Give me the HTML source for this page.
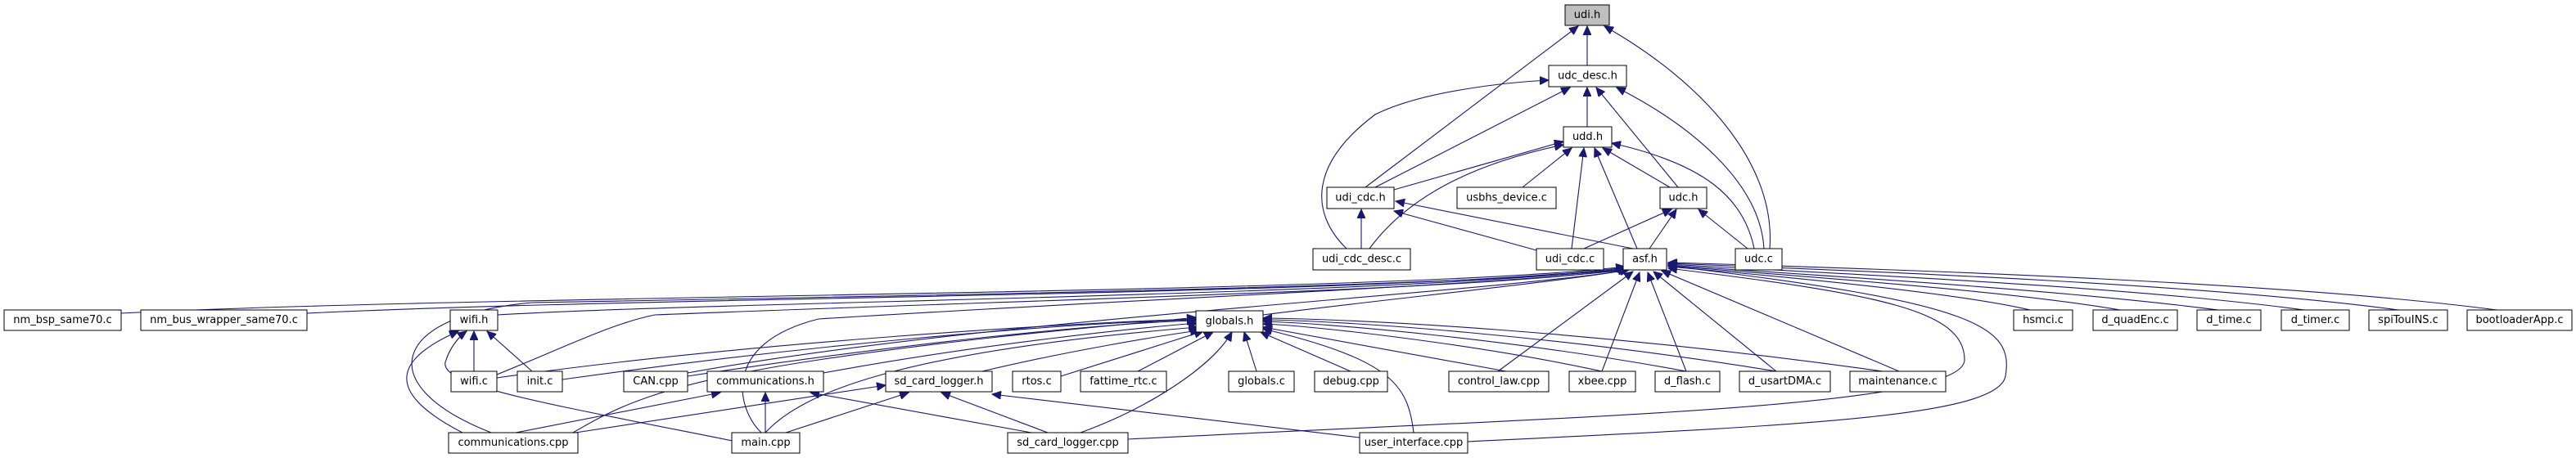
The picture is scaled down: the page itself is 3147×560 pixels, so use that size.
<!DOCTYPE html>
<html><head><meta charset="utf-8"><style>
html,body{margin:0;padding:0;background:#fff;}
svg{display:block}
text{font-family:"DejaVu Sans","Liberation Sans",sans-serif;font-size:13px;fill:#000;text-anchor:middle;dominant-baseline:central}
.n{fill:#fff;stroke:#000;stroke-width:1}
.e{fill:none;stroke:#191970;stroke-width:1.1}
</style></head><body>
<svg width="3147" height="560" viewBox="0 0 3147 560" xmlns="http://www.w3.org/2000/svg">
<defs><marker id="a" markerUnits="userSpaceOnUse" markerWidth="12" markerHeight="10" refX="11" refY="5" orient="auto"><path d="M0,0 L11,5 L0,10 z" fill="#191970" stroke="#191970"/></marker></defs>
<g class="e" marker-end="url(#a)">
<path d="M1939,80 L1939,32"/>
<path d="M1668,229 L1928,32"/>
<path d="M2162,304 C2170,200 2080,100 1960,32"/>
<path d="M1939,155 L1939,107"/>
<path d="M1680,229 L1918,107"/>
<path d="M1645,304 C1600,260 1600,200 1680,140 C1740,110 1850,100 1892,98"/>
<path d="M2050,229 L1950,107"/>
<path d="M2155,304 C2150,220 2060,150 1975,107"/>
<path d="M1703,232 L1910,173"/>
<path d="M1860,229 L1920,181"/>
<path d="M2040,229 L1958,181"/>
<path d="M1920,304 L1935,181"/>
<path d="M2143,304 C2130,240 2080,200 1969,175"/>
<path d="M1673,304 C1720,240 1800,200 1910,177"/>
<path d="M1663,304 L1663,256"/>
<path d="M1877,306 L1703,258"/>
<path d="M1995,304 L1705,246"/>
<path d="M2000,304 L1948,181"/>
<path d="M2015,304 L2048,256"/>
<path d="M1935,304 L2042,256"/>
<path d="M2135,304 L2075,256"/>
<!-- to asf.h -->
<path d="M148,383 C600,360 1700,360 1985,326"/>
<path d="M375,383 C800,362 1700,362 1986,327"/>
<path d="M608,385 C900,368 1700,362 1987,328"/>
<path d="M1543,385 C1700,365 1900,345 1990,330"/>
<path d="M607,458 C700,420 750,395 800,385 C1300,365 1800,355 1988,329"/>
<path d="M840,456 C1200,390 1800,360 1990,330"/>
<path d="M600,529 C450,470 480,385 650,370 C1200,360 1800,350 1988,329"/>
<path d="M930,529 C900,500 880,420 1000,390 C1400,365 1800,350 1988,330"/>
<path d="M1830,454 L1995,332"/>
<path d="M1957,454 L2003,333"/>
<path d="M2060,454 L2013,333"/>
<path d="M2170,454 L2020,332"/>
<path d="M2320,454 L2030,331"/>
<path d="M1378,537 C1900,510 2400,500 2400,440 C2400,380 2300,360 2038,328"/>
<path d="M1793,540 C2200,520 2440,510 2450,460 C2460,400 2420,370 2038,325"/>
<path d="M2480,379 C2400,360 2200,340 2038,326"/>
<path d="M2590,379 C2450,355 2200,338 2038,325"/>
<path d="M2710,379 C2500,352 2200,336 2038,324"/>
<path d="M2815,379 C2600,350 2250,335 2038,323"/>
<path d="M2930,379 C2700,348 2300,332 2038,322"/>
<path d="M3050,379 C2800,346 2350,330 2038,321"/>
<!-- to globals.h -->
<path d="M607,462 C900,420 1300,395 1461,390"/>
<path d="M687,464 C1000,420 1300,395 1461,391"/>
<path d="M840,460 C1100,420 1350,395 1461,392"/>
<path d="M1006,456 C1200,420 1400,400 1463,395"/>
<path d="M1200,454 C1300,430 1420,410 1465,404"/>
<path d="M1296,460 L1470,405"/>
<path d="M1390,454 L1482,406"/>
<path d="M1535,454 L1520,406"/>
<path d="M1650,454 L1540,406"/>
<path d="M1840,454 L1543,400"/>
<path d="M1957,454 C1800,420 1600,398 1543,396"/>
<path d="M2060,454 C1850,415 1620,395 1543,393"/>
<path d="M2170,454 C1900,410 1640,392 1543,391"/>
<path d="M2300,454 C1950,405 1660,390 1543,389"/>
<path d="M935,529 C980,480 1100,430 1463,400"/>
<path d="M1320,529 C1400,500 1480,450 1505,406"/>
<path d="M1727,529 C1720,470 1700,440 1543,402"/>
<path d="M700,529 C750,500 800,470 1000,440 C1200,410 1400,395 1461,388"/>
<!-- to wifi.h -->
<path d="M579,454 L579,405"/>
<path d="M650,454 L595,405"/>
<path d="M565,529 C470,480 480,440 560,405"/>
<path d="M900,540 C650,490 530,470 545,440 C550,425 560,412 570,405"/>
<!-- to communications.h -->
<path d="M630,529 L880,480"/>
<path d="M935,529 L935,480"/>
<path d="M1260,529 L990,480"/>
<!-- to sd_card_logger.h -->
<path d="M690,531 L1082,471"/>
<path d="M960,529 L1110,480"/>
<path d="M1280,529 L1150,480"/>
<path d="M1661,535 L1212,482"/>
</g>
<g>
<rect x="1912" y="6" width="54" height="25" fill="#bfbfbf" stroke="#000"/><text x="1939" y="18.5">udi.h</text>
<rect class="n" x="1892" y="80" width="95" height="26"/><text x="1939.5" y="93">udc_desc.h</text>
<rect class="n" x="1910" y="155" width="59" height="25"/><text x="1939.5" y="167.5">udd.h</text>
<rect class="n" x="1621" y="229" width="82" height="26"/><text x="1662" y="242">udi_cdc.h</text>
<rect class="n" x="1780" y="229" width="121" height="26"/><text x="1840.5" y="242">usbhs_device.c</text>
<rect class="n" x="2028" y="229" width="57" height="26"/><text x="2056.5" y="242">udc.h</text>
<rect class="n" x="1604" y="304" width="119" height="26"/><text x="1663.5" y="317">udi_cdc_desc.c</text>
<rect class="n" x="1877" y="304" width="82" height="26"/><text x="1918" y="317">udi_cdc.c</text>
<rect class="n" x="1983" y="304" width="53" height="26"/><text x="2009.5" y="317">asf.h</text>
<rect class="n" x="2120" y="304" width="57" height="26"/><text x="2148.5" y="317">udc.c</text>

<rect class="n" x="5" y="379" width="143" height="25"/><text x="76.5" y="391.5">nm_bsp_same70.c</text>
<rect class="n" x="172" y="379" width="203" height="25"/><text x="273.5" y="391.5">nm_bus_wrapper_same70.c</text>
<rect class="n" x="550" y="379" width="58" height="25"/><text x="579" y="391.5">wifi.h</text>
<rect class="n" x="1461" y="380" width="82" height="26"/><text x="1502" y="393">globals.h</text>
<rect class="n" x="2460" y="379" width="72" height="25"/><text x="2496" y="391.5">hsmci.c</text>
<rect class="n" x="2557" y="379" width="103" height="25"/><text x="2608.5" y="391.5">d_quadEnc.c</text>
<rect class="n" x="2684" y="379" width="78" height="25"/><text x="2723" y="391.5">d_time.c</text>
<rect class="n" x="2787" y="379" width="83" height="25"/><text x="2828.5" y="391.5">d_timer.c</text>
<rect class="n" x="2894" y="379" width="96" height="25"/><text x="2942" y="391.5">spiTouINS.c</text>
<rect class="n" x="3014" y="379" width="128" height="25"/><text x="3078" y="391.5">bootloaderApp.c</text>

<rect class="n" x="551" y="454" width="56" height="25"/><text x="579" y="466.5">wifi.c</text>
<rect class="n" x="632" y="454" width="55" height="25"/><text x="659.5" y="466.5">init.c</text>
<rect class="n" x="762" y="454" width="78" height="25"/><text x="801" y="466.5">CAN.cpp</text>
<rect class="n" x="864" y="454" width="142" height="25"/><text x="935" y="466.5">communications.h</text>
<rect class="n" x="1082" y="454" width="130" height="25"/><text x="1147" y="466.5">sd_card_logger.h</text>
<rect class="n" x="1237" y="454" width="59" height="25"/><text x="1266.5" y="466.5">rtos.c</text>
<rect class="n" x="1320" y="454" width="105" height="25"/><text x="1372.5" y="466.5">fattime_rtc.c</text>
<rect class="n" x="1501" y="454" width="80" height="25"/><text x="1541" y="466.5">globals.c</text>
<rect class="n" x="1606" y="454" width="89" height="25"/><text x="1650.5" y="466.5">debug.cpp</text>
<rect class="n" x="1770" y="454" width="122" height="25"/><text x="1831" y="466.5">control_law.cpp</text>
<rect class="n" x="1917" y="454" width="81" height="25"/><text x="1957.5" y="466.5">xbee.cpp</text>
<rect class="n" x="2022" y="454" width="79" height="25"/><text x="2061.5" y="466.5">d_flash.c</text>
<rect class="n" x="2125" y="454" width="111" height="25"/><text x="2180.5" y="466.5">d_usartDMA.c</text>
<rect class="n" x="2260" y="454" width="117" height="25"/><text x="2318.5" y="466.5">maintenance.c</text>

<rect class="n" x="548" y="529" width="158" height="25"/><text x="627" y="541.5">communications.cpp</text>
<rect class="n" x="894" y="529" width="83" height="25"/><text x="935.5" y="541.5">main.cpp</text>
<rect class="n" x="1231" y="529" width="147" height="25"/><text x="1304.5" y="541.5">sd_card_logger.cpp</text>
<rect class="n" x="1661" y="529" width="132" height="25"/><text x="1727" y="541.5">user_interface.cpp</text>
</g>
</svg>
</body></html>
